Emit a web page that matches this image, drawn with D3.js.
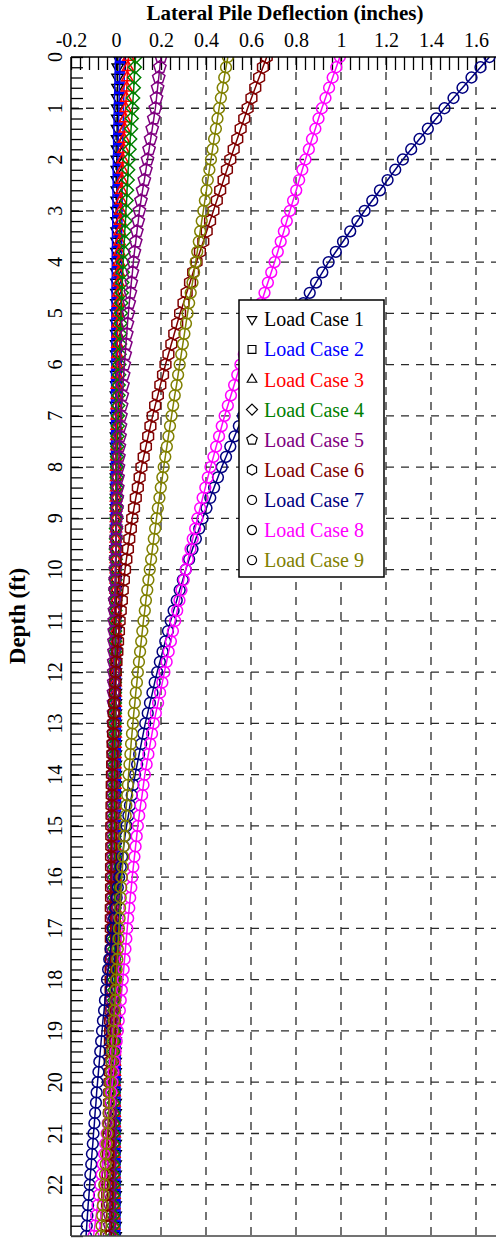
<!DOCTYPE html>
<html><head><meta charset="utf-8">
<script src="https://cdn.jsdelivr.net/npm/d3@7/dist/d3.min.js"></script>
<style>html,body{margin:0;padding:0;background:#fff;} svg{display:block;}</style>
</head><body>
<svg id="chart" width="496" height="1241"></svg>
<script>
// Lateral deflection (inches) along the pile, one value every 0.2 ft from 0 to 23 ft
const depthStep = 0.2;
const depthMax = 23;

const lc1 = [0.008,0.008,0.007,0.007,0.006, 0.006,0.006,0.005,0.005,0.005, 0.004,0.004,0.004,0.004,0.003,
  0.003,0.003,0.003,0.003,0.002, 0.002,0.002,0.002,0.002,0.002, 0.001,0.001,0.001,0.001,0.001,
  0.001,0.001,0.001,0.000,0.000, 0.000,0.000,0.000,0.000,0.000, 0.000,0.000,0.000,0.000,0.000,
  0.000,0.000,0.000,-0.001,-0.001,
  -0.001,-0.001,-0.001,-0.001,-0.001, -0.001,-0.001,-0.001,-0.001,-0.001, -0.001,-0.001,-0.001,-0.001,-0.001,
  -0.001,-0.001,-0.001,-0.001,-0.001, -0.001,-0.001,-0.001,-0.001,-0.001, -0.001,-0.001,-0.001,-0.001,-0.001,
  -0.001,-0.001,-0.001,-0.001,-0.001, -0.001,-0.001,-0.001,-0.001,-0.001,
  -0.002,-0.002,-0.002,-0.002,-0.002, -0.002,-0.002,-0.002,-0.002,-0.002, -0.002,-0.002,-0.002,-0.002,-0.002,
  -0.002,-0.002,-0.002,-0.002,-0.002, -0.002,-0.002,-0.002,-0.002,-0.002, -0.002];

const lc2 = [0.018,0.017,0.016,0.015,0.014, 0.013,0.012,0.011,0.010,0.010, 0.009,0.008,0.008,0.007,0.007,
  0.006,0.006,0.005,0.005,0.004, 0.004,0.004,0.003,0.003,0.003, 0.002,0.002,0.002,0.002,0.002,
  0.002,0.001,0.001,0.001,0.001, 0.001,0.001,0.001,0.001,0.001, 0.000,0.000,0.000,0.000,0.000,
  0.000,0.000,0.000,0.000,0.000,
  -0.001,-0.001,-0.001,-0.001,-0.001, -0.001,-0.001,-0.001,-0.001,-0.001, -0.001,-0.001,-0.001,-0.001,-0.001,
  -0.001,-0.001,-0.001,-0.001,-0.001, -0.001,-0.001,-0.001,-0.001,-0.001, -0.001,-0.001,-0.001,-0.001,-0.001,
  -0.002,-0.002,-0.002,-0.002,-0.002, -0.002,-0.002,-0.002,-0.002,-0.002, -0.002,-0.002,-0.002,-0.002,-0.002,
  -0.002,-0.002,-0.002,-0.002,-0.002,
  -0.003,-0.003,-0.003,-0.003,-0.003, -0.003,-0.003,-0.003,-0.003,-0.003, -0.003,-0.003,-0.003,-0.003,-0.003,
  -0.004];

const lc3 = [0.055,0.053,0.050,0.048,0.045, 0.043,0.040,0.038,0.035,0.033, 0.030,0.028,0.026,0.024,0.022,
  0.020,0.019,0.017,0.016,0.014, 0.013,0.012,0.011,0.010,0.009, 0.008,0.007,0.007,0.006,0.006,
  0.005,0.005,0.004,0.004,0.003, 0.003,0.003,0.002,0.002,0.001, 0.001,0.001,0.001,0.000,0.000,
  0.000,0.000,-0.001,-0.001,-0.001,
  -0.001,-0.001,-0.001,-0.001,-0.001, -0.002,-0.002,-0.002,-0.002,-0.002, -0.002,-0.002,-0.002,-0.002,-0.002,
  -0.002,-0.002,-0.003,-0.003,-0.003, -0.003,-0.003,-0.003,-0.003,-0.003, -0.003,-0.003,-0.003,-0.003,-0.003,
  -0.004,-0.004,-0.004,-0.004,-0.004, -0.004,-0.004,-0.004,-0.004,-0.004, -0.004,-0.005,-0.005,-0.005,-0.005,
  -0.005,-0.005,-0.005,-0.005,-0.005, -0.006,-0.006,-0.006,-0.006,-0.006, -0.006,-0.006,-0.007,-0.007,-0.007,
  -0.007,-0.007,-0.008,-0.008,-0.008, -0.008];

const lc4 = [0.087,0.084,0.081,0.079,0.076, 0.073,0.070,0.067,0.063,0.060, 0.057,0.054,0.052,0.049,0.047,
  0.044,0.042,0.039,0.037,0.034, 0.032,0.030,0.028,0.026,0.024, 0.022,0.021,0.019,0.018,0.016,
  0.015,0.014,0.012,0.011,0.010, 0.009,0.008,0.007,0.006,0.005, 0.004,0.003,0.003,0.002,0.002,
  0.001,0.000,0.000,-0.001,-0.001,
  -0.002,-0.002,-0.003,-0.003,-0.003, -0.004,-0.004,-0.004,-0.004,-0.005, -0.005,-0.005,-0.005,-0.005,-0.005,
  -0.005,-0.005,-0.006,-0.006,-0.006, -0.006,-0.006,-0.006,-0.006,-0.006, -0.006,-0.007,-0.007,-0.007,-0.007,
  -0.007,-0.007,-0.007,-0.007,-0.007, -0.008,-0.008,-0.008,-0.008,-0.008, -0.008,-0.008,-0.009,-0.009,-0.009,
  -0.009,-0.009,-0.009,-0.009,-0.009, -0.010,-0.010,-0.010,-0.010,-0.010, -0.010,-0.010,-0.011,-0.011,-0.011,
  -0.011,-0.011,-0.012,-0.012,-0.012, -0.012];

const lc5 = [0.200,0.195,0.190,0.185,0.180, 0.175,0.168,0.161,0.154,0.147, 0.140,0.133,0.126,0.118,0.111,
  0.104,0.099,0.093,0.088,0.082, 0.077,0.073,0.068,0.064,0.059, 0.055,0.051,0.048,0.044,0.041,
  0.037,0.034,0.031,0.028,0.025, 0.022,0.020,0.018,0.015,0.013, 0.011,0.009,0.008,0.006,0.005,
  0.003,0.002,0.000,-0.001,-0.002,
  -0.003,-0.004,-0.005,-0.006,-0.007, -0.008,-0.008,-0.009,-0.009,-0.010, -0.010,-0.010,-0.011,-0.011,-0.011,
  -0.012,-0.012,-0.012,-0.012,-0.013, -0.013,-0.013,-0.013,-0.013,-0.014, -0.014,-0.014,-0.014,-0.014,-0.015,
  -0.015,-0.015,-0.015,-0.016,-0.016, -0.016,-0.016,-0.017,-0.017,-0.017, -0.017,-0.018,-0.018,-0.018,-0.019,
  -0.019,-0.019,-0.020,-0.020,-0.021, -0.021,-0.021,-0.022,-0.022,-0.023, -0.023,-0.024,-0.024,-0.025,-0.025,
  -0.026,-0.026,-0.027,-0.028,-0.028, -0.029];

const lc6 = [0.670,0.653,0.636,0.619,0.602, 0.585,0.570,0.554,0.539,0.523, 0.508,0.493,0.478,0.463,0.448,
  0.433,0.418,0.403,0.388,0.373, 0.358,0.343,0.329,0.314,0.300, 0.285,0.272,0.259,0.246,0.233,
  0.220,0.209,0.197,0.186,0.174, 0.163,0.153,0.143,0.133,0.123, 0.113,0.105,0.097,0.088,0.080,
  0.072,0.066,0.059,0.053,0.046,
  0.040,0.035,0.030,0.026,0.021, 0.016,0.013,0.009,0.006,0.002, -0.001,-0.003,-0.005,-0.008,-0.010,
  -0.012,-0.013,-0.015,-0.016,-0.017, -0.018,-0.019,-0.019,-0.020,-0.020, -0.021,-0.021,-0.021,-0.022,-0.022,
  -0.022,-0.022,-0.022,-0.023,-0.023, -0.023,-0.023,-0.023,-0.024,-0.024, -0.024,-0.024,-0.025,-0.025,-0.026,
  -0.026,-0.027,-0.027,-0.028,-0.028, -0.029,-0.030,-0.031,-0.031,-0.032, -0.033,-0.034,-0.035,-0.036,-0.037,
  -0.038,-0.039,-0.040,-0.042,-0.043, -0.044];

const lc7 = [1.660,1.620,1.580,1.540,1.500, 1.460,1.423,1.386,1.349,1.312, 1.275,1.241,1.207,1.173,1.139,
  1.105,1.073,1.041,1.009,0.977, 0.945,0.917,0.889,0.861,0.833, 0.805,0.779,0.753,0.727,0.701,
  0.675,0.653,0.631,0.609,0.587, 0.565,0.546,0.527,0.508,0.489, 0.470,0.453,0.436,0.419,0.402,
  0.385,0.370,0.355,0.340,0.325,
  0.310,0.297,0.283,0.270,0.256, 0.243,0.231,0.219,0.207,0.195, 0.183,0.172,0.162,0.151,0.141,
  0.130,0.121,0.112,0.103,0.094, 0.085,0.077,0.070,0.062,0.055, 0.047,0.040,0.034,0.027,0.021,
  0.014,0.008,0.003,-0.003,-0.008, -0.014,-0.019,-0.024,-0.030,-0.035, -0.040,-0.044,-0.049,-0.053,-0.058,
  -0.062,-0.066,-0.070,-0.074,-0.078, -0.082,-0.086,-0.089,-0.093,-0.096, -0.100,-0.103,-0.107,-0.110,-0.114,
  -0.117,-0.120,-0.124,-0.127,-0.130, -0.133];

const lc8 = [0.995,0.979,0.963,0.947,0.931, 0.915,0.900,0.886,0.871,0.857, 0.842,0.828,0.814,0.801,0.787,
  0.773,0.759,0.746,0.732,0.719, 0.705,0.690,0.675,0.660,0.645, 0.630,0.615,0.599,0.584,0.568,
  0.553,0.539,0.525,0.511,0.497, 0.483,0.470,0.458,0.445,0.433, 0.420,0.408,0.397,0.385,0.374,
  0.362,0.352,0.341,0.331,0.320,
  0.310,0.301,0.291,0.282,0.272, 0.263,0.253,0.244,0.234,0.225, 0.215,0.206,0.196,0.187,0.177,
  0.168,0.160,0.152,0.144,0.136, 0.128,0.122,0.116,0.109,0.103, 0.097,0.092,0.087,0.082,0.077,
  0.072,0.068,0.063,0.059,0.054, 0.050,0.046,0.042,0.038,0.034, 0.030,0.026,0.021,0.017,0.012,
  0.008,0.003,-0.002,-0.006,-0.011, -0.016,-0.021,-0.026,-0.032,-0.037, -0.042,-0.048,-0.053,-0.059,-0.064,
  -0.070,-0.076,-0.082,-0.088,-0.094, -0.100];

const lc9 = [0.497,0.489,0.481,0.474,0.466, 0.458,0.451,0.444,0.436,0.429, 0.422,0.415,0.408,0.402,0.395,
  0.388,0.381,0.374,0.368,0.361, 0.354,0.347,0.340,0.332,0.325, 0.318,0.311,0.304,0.297,0.290,
  0.283,0.276,0.269,0.261,0.254, 0.247,0.240,0.233,0.226,0.219, 0.212,0.206,0.199,0.193,0.186,
  0.180,0.174,0.168,0.162,0.156,
  0.150,0.144,0.139,0.133,0.128, 0.122,0.117,0.112,0.107,0.102, 0.097,0.093,0.088,0.084,0.079,
  0.075,0.071,0.067,0.064,0.060, 0.056,0.053,0.050,0.046,0.043, 0.040,0.037,0.034,0.032,0.029,
  0.026,0.023,0.021,0.018,0.016, 0.013,0.011,0.008,0.006,0.003, 0.001,-0.002,-0.004,-0.007,-0.009,
  -0.012,-0.015,-0.017,-0.020,-0.022, -0.025,-0.028,-0.030,-0.033,-0.035, -0.038,-0.041,-0.044,-0.046,-0.049,
  -0.052,-0.055,-0.058,-0.061,-0.064, -0.067];

const caseNames = ["Load Case 1","Load Case 2","Load Case 3","Load Case 4","Load Case 5",
                   "Load Case 6","Load Case 7","Load Case 8","Load Case 9"];
const caseValues = [lc1, lc2, lc3, lc4, lc5, lc6, lc7, lc8, lc9];

const xTickLabels = ["-0.2","0","0.2","0.4","0.6","0.8","1","1.2","1.4","1.6"];
const yTickLabels = ["0","1","2","3","4","5","6","7","8","9","10","11","12","13","14","15","16","17","18","19","20","21","22"];

// ---- styling ----
const caseColors = ["#000000","#0000ff","#ff0000","#008000","#800080","#800000","#000080","#ff00ff","#808000"];
// marker: number of polygon sides (0 = circle), rotation in degrees, radius
const caseMarkers = [
  {n:3, rot:180, r:6.5}, {n:4, rot:45, r:6.5}, {n:3, rot:0, r:6.5}, {n:4, rot:0, r:6.5},
  {n:5, rot:0, r:6.5}, {n:6, rot:0, r:6.2}, {n:0, rot:0, r:5.4}, {n:0, rot:0, r:5.4}, {n:0, rot:0, r:5.4}
];
const serif = "'Liberation Serif','Times New Roman',Times,serif";

function markerPath(m, scale) {
  const r = m.r * (scale || 1);
  if (m.n === 0) return `M${r},0A${r},${r} 0 1,1 ${-r},0A${r},${r} 0 1,1 ${r},0Z`;
  const pts = d3.range(m.n).map(i => {
    const a = (m.rot + i * 360 / m.n - 90) * Math.PI / 180;
    return [r * Math.cos(a), r * Math.sin(a)];
  });
  return "M" + pts.map(p => p[0].toFixed(2) + "," + p[1].toFixed(2)).join("L") + "Z";
}

const plot = {left: 71, top: 57, right: 498.5, bottom: 1236};
const svg = d3.select("#chart");

const x = d3.scaleLinear().domain([-0.2, 1.7]).range([plot.left, plot.right]);
const y = d3.scaleLinear().domain([0, depthMax]).range([plot.top, plot.bottom]);

svg.append("defs").append("clipPath").attr("id", "plotClip")
  .append("rect").attr("x", plot.left).attr("y", plot.top)
  .attr("width", plot.right - plot.left).attr("height", plot.bottom - plot.top);

// dashed grid at the labelled ticks
const xMajor = xTickLabels.map(Number);
const yMajor = yTickLabels.map(Number);
const grid = svg.append("g").attr("stroke", "#2a2a2a").attr("stroke-width", 1.3)
  .attr("stroke-dasharray", "8,7").attr("fill", "none");
grid.selectAll("line.v").data(xMajor.filter(v => v > -0.2)).join("line").attr("class", "v")
  .attr("x1", d => x(d)).attr("x2", d => x(d)).attr("y1", plot.top).attr("y2", plot.bottom);
grid.selectAll("line.h").data(yMajor.filter(v => v > 0)).join("line").attr("class", "h")
  .attr("y1", d => y(d)).attr("y2", d => y(d)).attr("x1", plot.left).attr("x2", plot.right);

// inward tick marks
const xMinor = d3.range(0, 48).map(i => +(-0.2 + i * 0.04).toFixed(2));
const yMinor = d3.range(0, depthMax / depthStep + 1).map(i => +(i * depthStep).toFixed(1));

const topTicks = svg.append("g").attr("transform", `translate(0,${plot.top})`)
  .call(d3.axisTop(x).tickValues(xMinor).tickSize(-13).tickFormat(""));
topTicks.select(".domain").remove();
topTicks.selectAll("line").attr("stroke", "#000").attr("stroke-width", 1.3);

const leftTicks = svg.append("g").attr("transform", `translate(${plot.left},0)`)
  .call(d3.axisLeft(y).tickValues(yMinor).tickSize(-12).tickFormat(""));
leftTicks.select(".domain").remove();
leftTicks.selectAll("line").attr("stroke", "#000").attr("stroke-width", 1.3);

// tick labels
const topLabels = svg.append("g").attr("transform", `translate(0,${plot.top})`)
  .call(d3.axisTop(x).tickValues(xMajor).tickSize(0).tickPadding(10)
    .tickFormat((d, i) => xTickLabels[i]));
topLabels.select(".domain").remove();
topLabels.selectAll("text").attr("font-family", serif).attr("font-size", 20).attr("fill", "#000");

const leftLabels = svg.append("g").attr("font-family", serif).attr("font-size", 20);
leftLabels.selectAll("text").data(yMajor).join("text")
  .attr("transform", d => `translate(62,${y(d)}) rotate(-90)`)
  .attr("text-anchor", "middle")
  .text((d, i) => yTickLabels[i]);

// series: connecting line plus open markers
const line = d3.line().x(d => x(d.v)).y(d => y(d.d));
const seriesLayer = svg.append("g").attr("clip-path", "url(#plotClip)");
caseValues.forEach((vals, k) => {
  const pts = vals.map((v, i) => ({d: i * depthStep, v}));
  const g = seriesLayer.append("g").attr("stroke", caseColors[k]).attr("fill", "none");
  g.append("path").datum(pts).attr("d", line).attr("stroke-width", 1.5);
  const mp = markerPath(caseMarkers[k]);
  g.selectAll("path.m").data(pts).join("path").attr("class", "m")
    .attr("transform", d => `translate(${x(d.v)},${y(d.d)})`)
    .attr("d", mp).attr("stroke-width", 1.5);
});

// frame
svg.append("g").attr("stroke", "#000").attr("stroke-width", 1.5).attr("fill", "none")
  .call(g => {
    g.append("line").attr("x1", plot.left).attr("x2", plot.right).attr("y1", plot.top).attr("y2", plot.top);
    g.append("line").attr("x1", plot.left).attr("x2", plot.left).attr("y1", plot.top).attr("y2", plot.bottom);
    g.append("line").attr("x1", plot.left).attr("x2", plot.right).attr("y1", plot.bottom).attr("y2", plot.bottom)
      .attr("stroke", "#444");
  });

// axis titles
svg.append("text").attr("x", 285).attr("y", 20).attr("text-anchor", "middle")
  .attr("font-family", serif).attr("font-weight", "bold").attr("font-size", 21)
  .text("Lateral Pile Deflection (inches)");
svg.append("text").attr("transform", "translate(25,616) rotate(-90)").attr("text-anchor", "middle")
  .attr("font-family", serif).attr("font-weight", "bold").attr("font-size", 23)
  .text("Depth (ft)");

// legend
const legend = svg.append("g");
legend.append("rect").attr("x", 239).attr("y", 300).attr("width", 145).attr("height", 277)
  .attr("fill", "#fff").attr("stroke", "#000").attr("stroke-width", 1.5);
const items = legend.selectAll("g.item").data(caseNames).join("g").attr("class", "item")
  .attr("transform", (d, i) => `translate(0,${319.3 + i * 30.1})`);
items.append("path").attr("transform", "translate(252,0)")
  .attr("d", (d, i) => markerPath(caseMarkers[i], 0.85))
  .attr("fill", "none").attr("stroke", "#000").attr("stroke-width", 1.2);
items.append("text").attr("x", 264).attr("dy", "0.35em")
  .attr("font-family", serif).attr("font-size", 20)
  .attr("fill", (d, i) => caseColors[i]).text(d => d);
</script>
</body></html>
